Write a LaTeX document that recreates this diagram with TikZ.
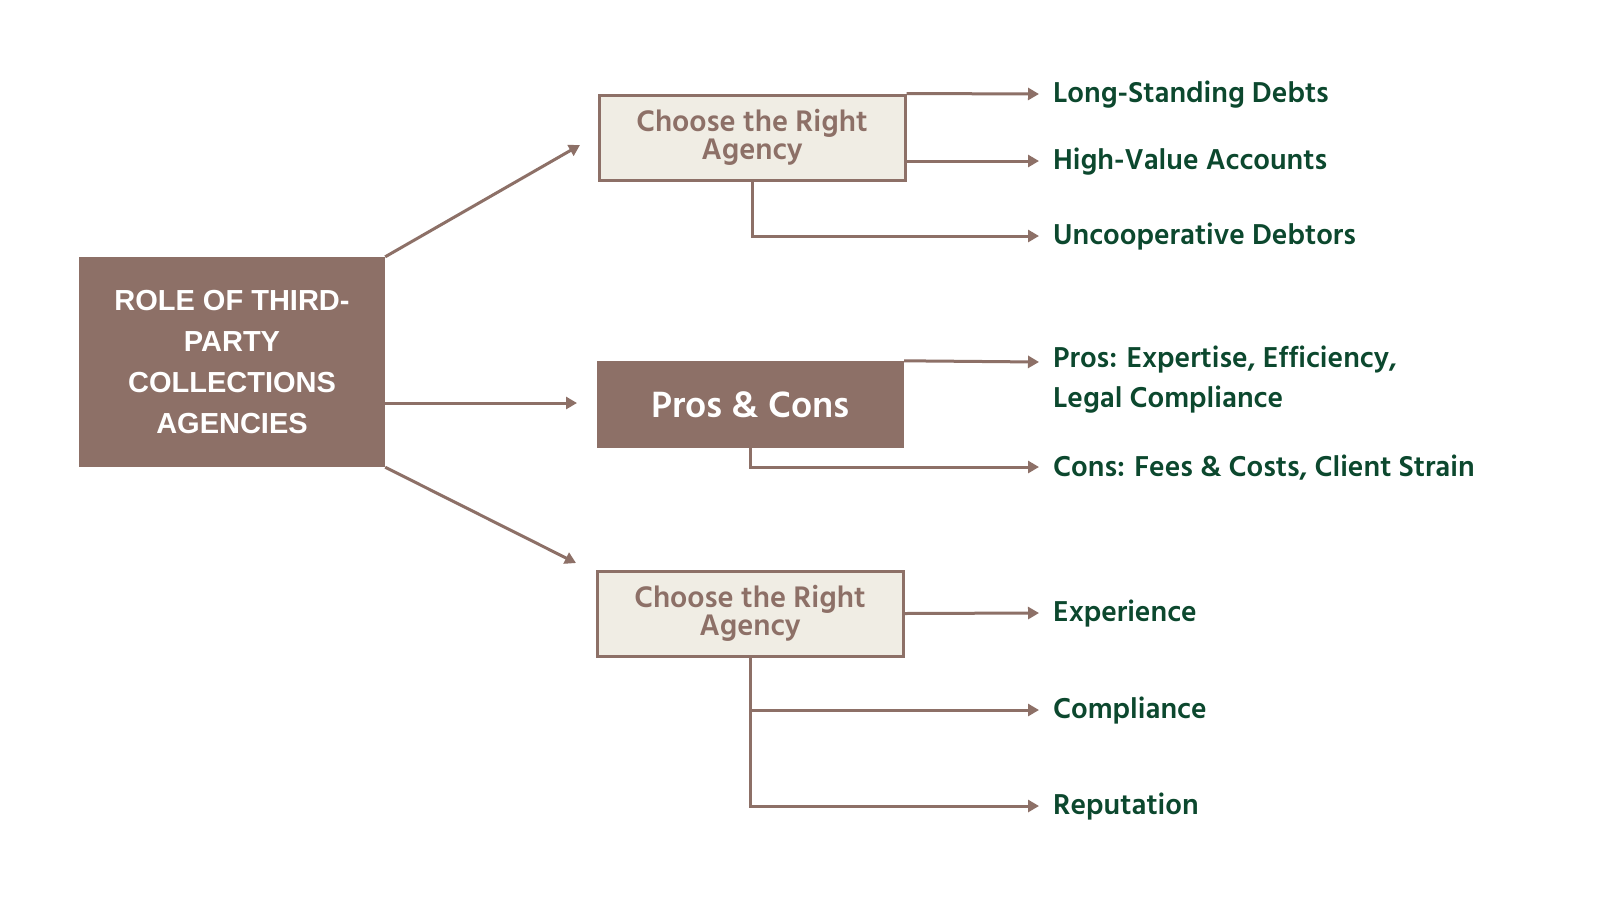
\documentclass[tikz,border=0pt]{standalone}
\usepackage{fontspec}
\setmainfont{Liberation Sans}
\newfontfamily\hind{Hind Siliguri}[BoldFont={Hind Siliguri SemiBold}]
\usetikzlibrary{arrows.meta,calc}
\definecolor{brown}{RGB}{141,112,103}
\definecolor{beige}{RGB}{240,237,228}
\definecolor{dgreen}{RGB}{12,72,46}
\tikzset{
  conn/.style={draw=brown,line width=3pt,-{Triangle[length=11pt,width=12pt]}},
  darkbox/.style={rectangle,fill=brown,inner sep=0pt,text=white,align=center},
  lightbox/.style={rectangle,fill=beige,draw=brown,line width=3pt,inner sep=0pt,text=brown,align=center,
    font=\hind\bfseries\fontsize{30.5}{27.5}\selectfont},
  leaf/.style={anchor=base west,text=dgreen,inner sep=0pt,align=left,
    font=\hind\bfseries\fontsize{29.5}{40}\selectfont},
}
\begin{document}
\begin{tikzpicture}[x=1pt,y=-1pt]
\useasboundingbox[fill=white] (0,0) rectangle (1600,900);
% main node
\node[darkbox,minimum width=306pt,minimum height=210pt,
  font=\bfseries\fontsize{29}{41}\selectfont] (main) at (232,362)
  {ROLE OF THIRD-\\PARTY\\COLLECTIONS\\AGENCIES};
% level 2
\node[lightbox,minimum width=306pt,minimum height=85pt] (top) at (752,137.5) {Choose the Right\\Agency};
\node[darkbox,minimum width=307pt,minimum height=87pt,
  font=\hind\bfseries\fontsize{37.5}{42}\selectfont] (pros) at (750.5,404.5) {Pros \& Cons};
\node[lightbox,minimum width=306pt,minimum height=85pt] (bot) at (750,613.5) {Choose the Right\\Agency};
% free ends of main arrows
\coordinate (a1) at (580,145);
\coordinate (a2) at (577,403);
\coordinate (a3) at (576,563);
\draw[conn] (main.north east) -- (a1);
\draw[conn] (main.east |- a2) -- (a2);
\draw[conn] (main.south east) -- (a3);
% end points
\coordinate (t1) at (1039,94);
\coordinate (t2) at (1039,161);
\coordinate (t3) at (1039,236);
\coordinate (p1) at (1039,362);
\coordinate (p2) at (1039,467);
\coordinate (b1) at (1039,613);
\coordinate (b2) at (1039,710);
\coordinate (b3) at (1039,806);
\draw[conn] (top.north east) -- (t1);
\draw[conn] (top.east |- t2) -- (t2);
\draw[conn] (top.south) |- (t3);
\draw[conn] (pros.north east) -- (p1);
\draw[conn] (pros.south) |- (p2);
\draw[conn] (bot.east) -- (b1);
\draw[conn] (bot.south) |- (b2);
\draw[conn] (bot.south) |- (b3);
% leaf texts
\node[leaf] (l1) at (1053,102) {Long-Standing Debts};
\node[leaf] (l2) at (1053,169) {High-Value Accounts};
\node[leaf] (l3) at (1053,244) {Uncooperative Debtors};
\node[leaf] (l4) at (1053,407) {Pros: Expertise, Efficiency,\\Legal Compliance};
\node[leaf] (l5) at (1053,476) {Cons: Fees \& Costs, Client Strain};
\node[leaf] (l6) at (1053,621) {Experience};
\node[leaf] (l7) at (1053,718) {Compliance};
\node[leaf] (l8) at (1053,814) {Reputation};
\end{tikzpicture}
\end{document}
